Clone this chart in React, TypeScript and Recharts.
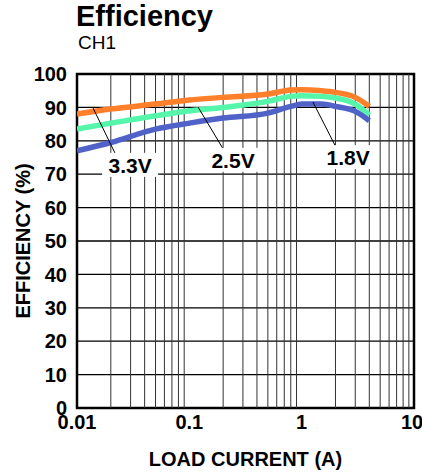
import { LineChart, Line, XAxis, YAxis, CartesianGrid, ReferenceLine, ReferenceArea, ReferenceDot } from 'recharts'

// load current (A)
const current = [0.01, 0.02, 0.05, 0.1, 0.2, 0.5, 0.8, 1, 1.5, 2, 3, 4]
// efficiency (%) per output voltage
const eff33 = [88, 89.5, 91, 92.2, 93, 94, 95.2, 95.3, 95, 94.5, 93, 90.3]
const eff25 = [83.5, 85.3, 87.5, 89, 90, 91.8, 93.3, 93.5, 93.3, 92.8, 91, 87.7]
const eff18 = [77, 79.5, 83.5, 85.3, 86.8, 88.3, 90.3, 91, 91, 90.3, 88.8, 86]

const xTicks = [0.01, 0.1, 1, 10]
const yTicks = [0, 10, 20, 30, 40, 50, 60, 70, 80, 90, 100]

// minor log gridlines 2..9 in each decade
const minorX = [0.01, 0.1, 1].flatMap(d => [2, 3, 4, 5, 6, 7, 8, 9].map(m => +(d * m).toFixed(3)))

// callout labels: [text, line start x, y, line end x, y, label x, y]
const callouts: [string, number, number, number, number, number, number][] = [
  ['3.3V', 0.0139, 89.8, 0.0218, 76.3, 0.0297, 72.8],
  ['2.5V', 0.1196, 90.1, 0.208, 76.6, 0.245, 74.3],
  ['1.8V', 1.26, 91.6, 2.02, 78.1, 2.59, 75.1],
]

const data = current.map((c, i) => ({ current: c, v33: eff33[i], v25: eff25[i], v18: eff18[i] }))

const FONT = '"Liberation Sans", Arial, sans-serif'
const tickStyle = { fontFamily: FONT, fontWeight: 'bold', fontSize: 20, fill: '#000' }

function CalloutBox(props: any) {
  const { cx, cy, text } = props
  return (
    <g>
      <rect x={cx - 28} y={cy - 12} width={56} height={24} fill="#fff" />
      <text x={cx} y={cy + 8} textAnchor="middle" fontFamily={FONT} fontWeight="bold" fontSize={21} fill="#000">
        {text}
      </text>
    </g>
  )
}

export default function App() {
  return (
    <div style={{ position: 'absolute', left: 0, top: 0, width: 422, height: 475, background: '#fff', fontFamily: FONT }}>
      <div style={{ position: 'absolute', left: 76, top: 0, fontSize: 29, fontWeight: 'bold', color: '#000' }}>Efficiency</div>
      <div style={{ position: 'absolute', left: 78, top: 32, fontSize: 19, color: '#000' }}>CH1</div>
      <div
        style={{
          position: 'absolute', left: 23, top: 241, width: 0, height: 0,
        }}
      >
        <div style={{ position: 'absolute', left: 0, top: 0, transform: 'translate(-50%, -50%) rotate(-90deg)', whiteSpace: 'nowrap', fontSize: 20, fontWeight: 'bold', color: '#000' }}>
          EFFICIENCY (%)
        </div>
      </div>
      <LineChart width={422} height={475} data={data} margin={{ top: 74, right: 8, bottom: 37, left: 17 }} style={{ position: 'absolute', left: 0, top: 0 }}>
        <CartesianGrid vertical={false} stroke="#000" strokeWidth={1.3} />
        {minorX.map(v => (
          <ReferenceLine key={v} x={v} stroke="#333" strokeWidth={1} />
        ))}
        <XAxis
          dataKey="current"
          type="number"
          scale="log"
          domain={[0.01, 10]}
          ticks={xTicks}
          allowDataOverflow
          height={30}
          tickLine={false}
          axisLine={false}
          tickMargin={1}
          tick={tickStyle}
          label={{ value: 'LOAD CURRENT (A)', position: 'insideBottom', offset: -28, fontFamily: FONT, fontWeight: 'bold', fontSize: 20, fill: '#000' }}
        />
        <YAxis
          type="number"
          domain={[0, 100]}
          ticks={yTicks}
          width={60}
          tickLine={false}
          axisLine={false}
          tickMargin={4}
          tick={tickStyle}
        />
        <ReferenceArea x1={0.01} x2={10} y1={0} y2={100} fill="none" stroke="#000" strokeWidth={2.5} />
        <Line dataKey="v33" type="monotone" stroke="#FF7F2A" strokeWidth={5.5} dot={false} isAnimationActive={false} />
        <Line dataKey="v25" type="monotone" stroke="#55F5AA" strokeWidth={5.5} dot={false} isAnimationActive={false} />
        <Line dataKey="v18" type="monotone" stroke="#5062C8" strokeWidth={5.5} dot={false} isAnimationActive={false} />
        {callouts.map(([t, x1, y1, x2, y2]) => (
          <ReferenceLine key={'l' + t} segment={[{ x: x1, y: y1 }, { x: x2, y: y2 }]} stroke="#000" strokeWidth={1} />
        ))}
        {callouts.map(([t, , , , , lx, ly]) => (
          <ReferenceDot key={'d' + t} x={lx} y={ly} r={0} shape={(p: any) => <CalloutBox {...p} text={t} />} />
        ))}
      </LineChart>
    </div>
  )
}
